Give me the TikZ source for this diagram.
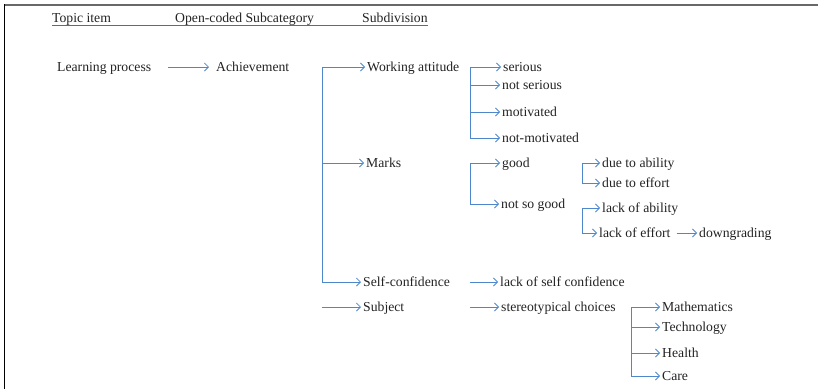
\documentclass[tikz,border=0pt]{standalone}
\usepackage{fontspec}
\setmainfont{Liberation Serif}
\usepackage{xcolor}
\usetikzlibrary{arrows.meta}

\definecolor{linkblue}{RGB}{79,135,205}
\definecolor{framegrey}{RGB}{105,105,105}
\definecolor{textgrey}{RGB}{35,35,35}

\tikzset{
	lbl/.style={anchor=west, inner xsep=2pt, inner ysep=0pt, text height=10pt, text depth=2pt, text=textgrey},
	link/.style={draw=linkblue, line width=0.8pt, -{Straight Barb[length=4pt,width=8pt]}},
	headrule/.style={draw=framegrey, line width=1.1pt}
}

\begin{document}
\begin{tikzpicture}[x=1pt, y=-1pt, font=\fontsize{13.7}{16}\selectfont]
			\useasboundingbox (0,0) rectangle (818,389);
			% frame
			\draw[framegrey, line width=2pt] (4,4.5) -- (818,4.5);
			\draw[black, line width=1.3pt] (4.5,4) -- (4.5,389);
			
			% header
			\foreach \name/\x/\y/\txt in {
				topic/50/18.5/Topic item,
				opencoded/173/18.5/Open-coded Subcategory,
				subdiv/360/18.5/Subdivision%
			}{
				\node[lbl] (\name) at (\x,\y) {\txt};
			}
			\draw[headrule] ([yshift=-3pt,xshift=2pt]topic.base west) -- ([yshift=-3pt,xshift=-2pt]subdiv.base east);
			
			% items
			\foreach \name/\x/\y/\txt in {
				learn/55/67/Learning process,
				achieve/214/67/Achievement,
				work/365/67/Working attitude,
				marks/364/163/Marks,
				selfconf/361/282/Self-confidence,
				subject/361/307/Subject,
				serious/501/67/serious,
				notserious/500/85/not serious,
				motiv/500/112/motivated,
				notmotiv/500/138/not-motivated,
				good/500/163/good,
				notgood/499/204/not so good,
				dueab/600/163/due to ability,
				dueeff/600/183/due to effort,
				lackab/600/208/lack of ability,
				lackeff/597/233/lack of effort,
				downgr/697/233/downgrading,
				lackself/498/282/lack of self confidence,
				stereo/499/307/stereotypical choices,
				maths/660/307/Mathematics,
				techn/660/327/Technology,
				health/660/353/Health,
				care/660/376/Care%
			}{
				\node[lbl] (\name) at (\x,\y) {\txt};
			}
			
			% branch points
			\coordinate (achbr) at (322,67);
			\coordinate (subjst) at (322,307);
			\coordinate (workbr) at (470,67);
			\coordinate (marksbr) at (470,163);
			\coordinate (goodbr) at (582,163);
			\coordinate (notgoodbr) at (582,208);
			\coordinate (selfst) at (470,282);
			\coordinate (stereost) at (470,307);
			\coordinate (subjbr) at (631,307);
			
			\draw[link, shorten <=15pt, shorten >=5pt] (learn) -- (achieve);
			\draw[link, shorten <=4pt] (lackeff) -- (downgr);
			
			\foreach \from/\to in {
				achbr/work, achbr/marks, achbr/selfconf,
				subjst/subject,
				workbr/serious, workbr/notserious, workbr/motiv, workbr/notmotiv,
				marksbr/good, marksbr/notgood,
				goodbr/dueab, goodbr/dueeff,
				notgoodbr/lackab, notgoodbr/lackeff,
				selfst/lackself, stereost/stereo,
				subjbr/maths, subjbr/techn, subjbr/health, subjbr/care%
			}{
				\draw[link] (\from) |- (\to);
			}
		\end{tikzpicture}
\end{document}
